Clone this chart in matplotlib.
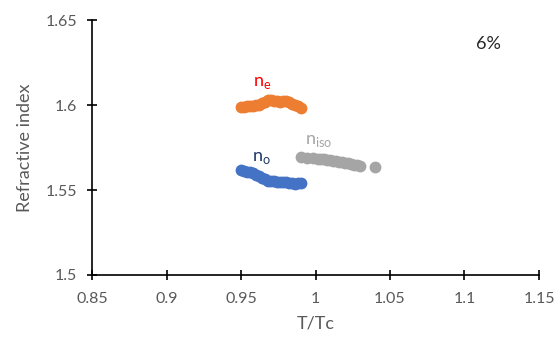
import matplotlib
matplotlib.use("Agg")
import matplotlib.pyplot as plt

plt.rcParams['font.family'] = ['Lato', 'DejaVu Sans']

# data
t_e = [0.950, 0.952, 0.954, 0.956, 0.958, 0.960, 0.962, 0.964, 0.966, 0.968,
       0.970, 0.972, 0.974, 0.976, 0.978, 0.980, 0.982, 0.984, 0.986, 0.988, 0.990]
n_e = [1.5990, 1.5991, 1.5992, 1.5993, 1.5995, 1.5998, 1.6002, 1.6010, 1.6020, 1.6030,
       1.6028, 1.6025, 1.6022, 1.6020, 1.6022, 1.6021, 1.6015, 1.6008, 1.6000, 1.5992, 1.5985]

t_o = [0.950, 0.952, 0.954, 0.956, 0.958, 0.960, 0.962, 0.964, 0.966, 0.968,
       0.970, 0.972, 0.974, 0.976, 0.978, 0.980, 0.982, 0.984, 0.986, 0.988, 0.990]
n_o = [1.5615, 1.5612, 1.5608, 1.5603, 1.5598, 1.5590, 1.5582, 1.5572, 1.5562, 1.5554,
       1.5552, 1.5551, 1.5550, 1.5549, 1.5547, 1.5545, 1.5542, 1.5539, 1.5538, 1.5540, 1.5542]

t_iso = [0.990, 0.994, 0.998, 1.002, 1.004, 1.006, 1.008, 1.010, 1.012, 1.014,
         1.016, 1.018, 1.020, 1.022, 1.024, 1.026, 1.028, 1.030, 1.040]
n_iso = [1.5695, 1.5690, 1.5686, 1.5684, 1.5682, 1.5680, 1.5677, 1.5674, 1.5671, 1.5668,
         1.5665, 1.5662, 1.5659, 1.5656, 1.5653, 1.5650, 1.5647, 1.5644, 1.5638]

fig = plt.figure(figsize=(5.56, 3.38), dpi=100)
ax = fig.add_axes([0.1655, 0.1864, 0.8039, 0.7544])

ax.plot(t_e, n_e, 'o', color='#ED7D31', ms=8.5, mec='none')
ax.plot(t_o, n_o, 'o', color='#4472C4', ms=8.5, mec='none')
ax.plot(t_iso, n_iso, 'o', color='#A5A5A5', ms=8.5, mec='none')

ax.text(0.964, 1.6112, r'n$_\mathregular{e}$', color='red', fontsize=13, ha='center')
ax.text(0.964, 1.5672, r'n$_\mathregular{o}$', color='#203864', fontsize=13, ha='center')
ax.text(1.002, 1.5772, r'n$_\mathregular{iso}$', color='#A5A5A5', fontsize=13, ha='center')
ax.text(1.116, 1.636, '6%', color='#262626', fontsize=13, ha='center', va='center')

ax.set_xlim(0.85, 1.15)
ax.set_ylim(1.5, 1.65)
ax.set_xticks([0.85, 0.9, 0.95, 1.0, 1.05, 1.1, 1.15])
ax.set_xticklabels(['0.85', '0.9', '0.95', '1', '1.05', '1.1', '1.15'])
ax.set_yticks([1.5, 1.55, 1.6, 1.65])
ax.set_yticklabels(['1.5', '1.55', '1.6', '1.65'])

for s in ['top', 'right']:
    ax.spines[s].set_visible(False)
for s in ['left', 'bottom']:
    ax.spines[s].set_linewidth(1.2)
ax.tick_params(direction='inout', length=7, width=1.2, labelsize=11.5, labelcolor='#595959')
ax.tick_params(axis='x', pad=8.5)
ax.tick_params(axis='y', pad=7)

ax.set_xlabel('T/Tc', fontsize=13, color='#595959', labelpad=7)
ax.set_ylabel('Refractive index', fontsize=13, color='#595959', labelpad=9)

fig.savefig('out.png', dpi=100)
